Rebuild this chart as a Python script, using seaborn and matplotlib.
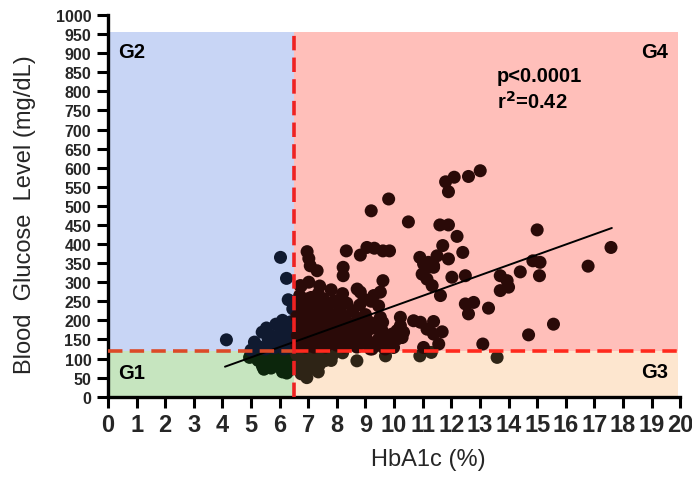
import numpy as np
import pandas as pd
import matplotlib
matplotlib.use("Agg")
import matplotlib.pyplot as plt
import seaborn as sns

# =====================
# Data
# =====================
hba1c_cut = 6.5
glucose_cut = 120

# G1: HbA1c < 6.5, glucose < cut
g1_x = [4.95, 5.1, 5.25, 5.4, 5.5, 5.6, 5.7, 5.8, 5.9, 6.0, 6.1, 6.2, 6.3, 6.4, 5.35,
        5.55, 5.75, 5.95, 6.15, 6.35, 5.65, 5.85, 6.05, 6.25, 6.45, 5.45, 6.1, 5.2, 6.3, 5.0]
g1_y = [103, 110, 95, 80, 100, 112, 75, 90, 105, 108, 65, 95, 85, 112, 108,
        88, 98, 80, 100, 70, 115, 108, 90, 62, 95, 72, 115, 100, 105, 112]

# G2: HbA1c < 6.5, glucose >= cut
g2_x = [6.03, 6.24, 6.30, 6.46, 6.38, 5.87, 5.54, 5.39, 4.14, 5.12, 5.3, 5.6, 5.75, 5.95, 6.1,
        6.2, 6.35, 6.45, 6.0, 5.8, 5.5, 5.2, 5.0, 6.25, 6.4, 6.15, 5.9, 5.7, 6.3, 6.45, 6.1]
g2_y = [365, 310, 254, 230, 196, 190, 180, 169, 149, 143, 130, 150, 140, 160, 175,
        150, 165, 180, 135, 128, 125, 132, 122, 130, 145, 125, 150, 160, 140, 125, 200]

# G3: HbA1c >= 6.5, glucose < cut
g3_x = [6.6, 6.7, 6.8, 6.9, 7.0, 7.1, 7.2, 7.3, 7.4, 7.5, 7.6, 7.7, 7.85, 6.75, 6.95, 7.15,
        7.35, 7.55, 6.65, 6.85, 7.05, 7.25, 7.45, 7.8, 8.7, 9.7, 10.9, 11.3, 13.6, 8.2, 6.7, 7.0]
g3_y = [110, 95, 80, 105, 70, 100, 90, 112, 85, 105, 95, 115, 110, 60, 50, 75,
        65, 95, 85, 115, 112, 100, 115, 95, 94, 107, 107, 116, 103, 115, 70, 85]

# G4: HbA1c >= 6.5, glucose >= cut
g4_x = [13.01, 12.6, 12.1, 11.8, 11.9, 9.81, 9.2, 10.5, 11.6, 11.9, 12.2, 11.7, 11.5, 11.9,
        12.4, 15.0, 8.33, 8.82, 9.05, 9.31, 9.61, 9.84, 6.96, 7.02, 7.07, 7.31, 8.22, 8.22,
        6.72, 7.02, 10.9, 11.03, 11.2, 11.38, 10.98, 11.15, 11.33, 11.62, 12.02, 12.49, 13.71,
        13.95, 13.71, 14.0, 14.41, 14.85, 15.1, 15.08, 12.49, 12.78, 12.6, 13.3, 14.7, 13.1,
        17.58, 16.78, 15.57, 11.2, 11.38, 9.61,
        8.71, 8.82, 9.29, 9.52, 9.46, 9.52, 10.22, 10.22, 10.33, 10.1, 9.58, 9.46, 9.23, 9.87,
        9.63, 9.98, 10.68, 10.92, 11.38, 11.15, 11.38, 11.68, 11.03, 11.56, 7.54, 6.96, 8.0,
        10.28, 9.93, 9.17, 9.69, 10.1,
        6.6, 6.62, 6.65, 6.6, 6.68, 6.7, 6.75, 6.8, 6.78, 6.82, 6.85, 6.9, 6.92, 6.95, 6.98,
        7.0, 7.05, 7.1, 7.12, 7.15, 7.2, 7.22, 7.25, 7.3, 7.32, 7.35, 7.4, 7.45, 7.48, 7.5,
        7.55, 7.6, 7.62, 7.65, 7.7, 7.75, 7.8, 7.82, 7.85, 7.9, 7.95, 8.0, 8.05, 8.1, 8.15,
        8.2, 8.25, 8.3, 8.35, 8.4, 8.45, 8.5, 8.55, 8.6, 8.65, 8.7, 8.75, 8.8, 8.85, 8.9,
        8.95, 9.0, 9.05, 9.1, 9.15, 9.2, 9.3, 9.4, 8.2, 7.8, 7.4, 9.6, 9.75, 8.95, 7.1, 6.75]
g4_y = [592, 577, 575, 563, 537, 518, 487, 458, 450, 450, 420, 396, 369, 361,
        378, 437, 382, 371, 391, 389, 382, 382, 380, 362, 343, 330, 339, 317,
        291, 300, 365, 348, 352, 343, 321, 308, 291, 265, 313, 317, 317,
        304, 278, 287, 327, 356, 352, 317, 243, 247, 217, 232, 162, 138,
        391, 342, 190, 339, 339, 304,
        282, 274, 265, 274, 238, 208, 208, 186, 169, 173, 173, 151, 125, 147,
        129, 129, 199, 195, 197, 177, 164, 170, 129, 138, 256, 256, 251,
        155, 164, 125, 125, 151,
        135, 160, 185, 210, 240, 265, 150, 175, 200, 225, 250, 130, 160, 190, 215,
        240, 140, 170, 200, 225, 130, 155, 185, 210, 240, 270, 140, 165, 195, 225,
        150, 130, 180, 205, 240, 160, 140, 190, 215, 250, 170, 135, 200, 230, 155,
        180, 130, 210, 245, 165, 140, 190, 225, 150, 175, 130, 205, 240, 160, 185,
        140, 215, 170, 145, 195, 250, 180, 135, 270, 280, 290, 195, 160, 255, 260, 290]

# Linear fit line endpoints
fit_x = [4.09, 17.61]
fit_y = [78.6, 442.0]

df = pd.concat([
    pd.DataFrame({"HbA1c": g1_x, "Glucose": g1_y, "Group": "G1"}),
    pd.DataFrame({"HbA1c": g2_x, "Glucose": g2_y, "Group": "G2"}),
    pd.DataFrame({"HbA1c": g3_x, "Glucose": g3_y, "Group": "G3"}),
    pd.DataFrame({"HbA1c": g4_x, "Glucose": g4_y, "Group": "G4"}),
])
df_fit = pd.DataFrame({"HbA1c": fit_x, "Glucose": fit_y})

# =====================
# Plot
# =====================
sns.set_theme(style="ticks")
plt.rcParams['font.family'] = ['Liberation Sans', 'DejaVu Sans']

fig = plt.figure(figsize=(6.92, 4.85), dpi=100)
ax = fig.add_axes([0.156, 0.18, 0.827, 0.787])

# quadrant shading
shade_top = 955
ax.fill_between([0, hba1c_cut], 0, glucose_cut, color="#c6e5bf", lw=0, zorder=0)
ax.fill_between([0, hba1c_cut], glucose_cut, shade_top, color="#c8d5f5", lw=0, zorder=0)
ax.fill_between([hba1c_cut, 19.93], 0, glucose_cut, color="#fde6cf", lw=0, zorder=0)
ax.fill_between([hba1c_cut, 19.93], glucose_cut, shade_top, color="#ffbfba", lw=0, zorder=0)

palette = {"G1": "#0c260c", "G2": "#101a30", "G3": "#2e2416", "G4": "#2a0a08"}
sns.scatterplot(data=df, x="HbA1c", y="Glucose", hue="Group", palette=palette,
                s=88, edgecolor="none", linewidth=0, legend=False, ax=ax, zorder=3)

sns.lineplot(data=df_fit, x="HbA1c", y="Glucose", color="black", lw=1.4, ax=ax, zorder=4)

# threshold lines
ax.plot([0, hba1c_cut], [glucose_cut, glucose_cut], color="#dc4a28", lw=2.6,
        dashes=(4, 2), zorder=5)
ax.plot([hba1c_cut, 20], [glucose_cut, glucose_cut], color="#ff2a1e", lw=2.6,
        dashes=(4, 2), zorder=5)
ax.plot([hba1c_cut, hba1c_cut], [0, shade_top], color="#ee2222", lw=2.6,
        dashes=(4, 2), zorder=6)

# group labels and stats
lab = dict(fontsize=14.5, fontweight="bold", color="black", zorder=7)
ax.text(0.37, 904, "G2", ha="left", va="center", **lab)
ax.text(19.58, 904, "G4", ha="right", va="center", **lab)
ax.text(0.37, 64, "G1", ha="left", va="center", **lab)
ax.text(19.58, 66, "G3", ha="right", va="center", **lab)
ax.text(13.6, 826, "p<0.0001", ha="left", va="baseline", **lab)
ax.text(13.6, 756, "r$^\\mathbf{2}$=0.42", ha="left", va="baseline", **lab)

ax.set_xlim(0, 20)
ax.set_ylim(0, 1000)
ax.set_xticks(range(0, 21))
ax.set_yticks(range(0, 1001, 50))
for lbl in ax.get_xticklabels():
    lbl.set_fontweight("bold")
    lbl.set_fontsize(17)
for lbl in ax.get_yticklabels():
    lbl.set_fontweight("bold")
    lbl.set_fontsize(11.5)
ax.tick_params(axis="both", direction="out", length=8, width=2.2, color="black", pad=4)

for side in ["top", "right"]:
    ax.spines[side].set_visible(False)
for side in ["left", "bottom"]:
    ax.spines[side].set_linewidth(2.4)
    ax.spines[side].set_color("black")

ax.set_xlabel("HbA1c (%)", fontsize=17)
ax.set_ylabel("Blood  Glucose  Level (mg/dL)", fontsize=17)
ax.xaxis.set_label_coords(0.56, -0.135)
ax.yaxis.set_label_coords(-0.125, 0.48)
ax.set_facecolor("white")

fig.savefig("out.png", dpi=100)
